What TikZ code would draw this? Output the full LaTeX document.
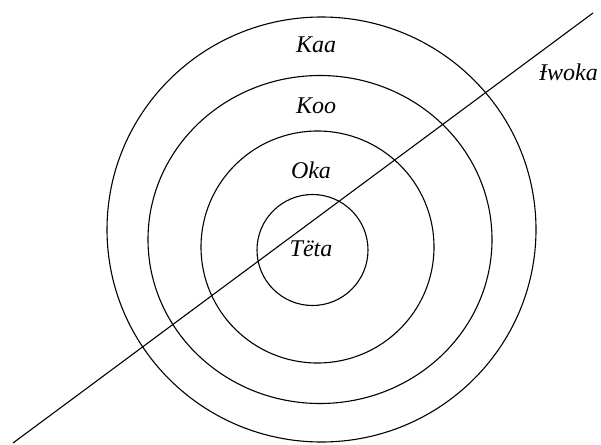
\documentclass[tikz,border=0pt]{standalone}
\usepackage{fontspec}
\setmainfont{Liberation Serif}
\usepackage{tikz}
\usetikzlibrary{positioning, calc}
\tikzset{
  ring/.style={draw=black, line width=1.1pt},
  cut/.style={draw=black, line width=1.1pt},
  lbl/.style={font=\fontsize{24}{28}\selectfont\itshape, inner sep=0pt}
}

\begin{document}
\begin{tikzpicture}[x=1pt, y=-1pt]
  \useasboundingbox (0,0) rectangle (601,444);

  % rings, outer to inner
  \draw[ring] (321.5,229.5) ellipse (214.5 and 212.5);
  \draw[ring] (320,239.5) ellipse (172 and 164);
  \draw[ring] (317.5,247) ellipse (116.5 and 116);
  \draw[ring] (312.5,250) circle (55.5);

  % labels
  \node[lbl] (kaa) at (316,45) {Kaa};
  \node[lbl] (koo) at (316,106) {Koo};
  \node[lbl] (oka) at (311,170) {Oka};
  \node[lbl] (teta) at (311,249) {Tëta};
  \node[lbl, anchor=west] (iwoka) at (539,72) {Ɨwoka};

  % the crossing line
  \coordinate (lo) at (13,443);
  \coordinate (hi) at (593,13);
  \draw[cut] (lo) -- (hi);
\end{tikzpicture}
\end{document}
